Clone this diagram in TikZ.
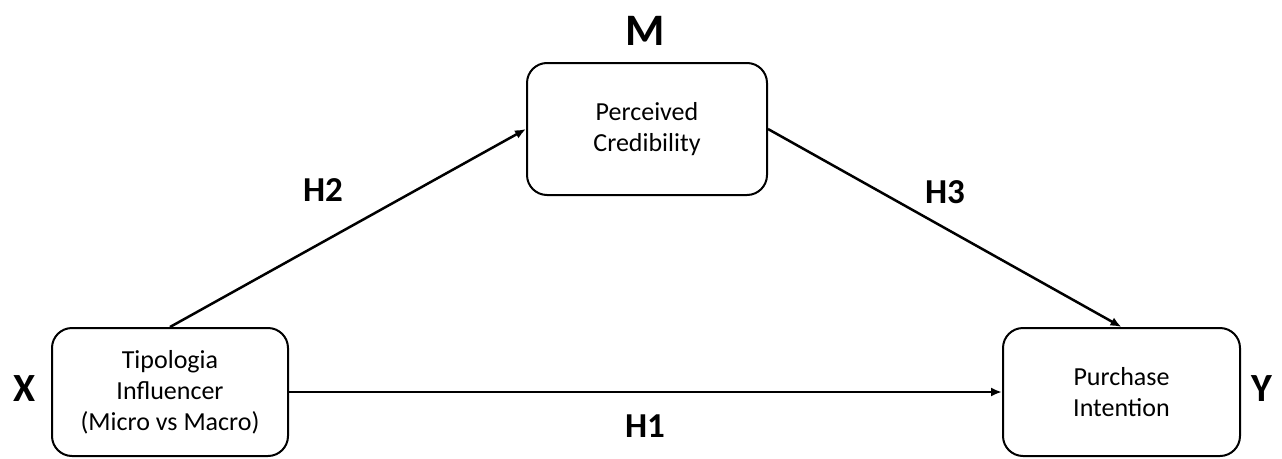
\documentclass[tikz,border=0pt]{standalone}
\usepackage{fontspec}
\setmainfont{Carlito}
\usetikzlibrary{arrows.meta}
\begin{document}
\begin{tikzpicture}[x=1pt,y=-1pt,
  varbox/.style={draw, line width=2pt, rounded corners=20pt, align=center,
    inner sep=0pt, font=\fontsize{26}{31}\selectfont},
  varlab/.style={font=\bfseries\fontsize{40}{40}\selectfont, inner sep=0pt},
  hlab/.style={font=\bfseries\fontsize{35}{35}\selectfont, inner sep=0pt},
  link/.style={line width=2.5pt, -{Latex[length=11pt,width=9pt]}}]
\useasboundingbox (0,0) rectangle (1282,458);
\node[varbox, minimum width=236pt, minimum height=128pt] (X) at (170,392)
  {Tipologia\\Influencer\\(Micro vs Macro)};
\node[varbox, minimum width=240pt, minimum height=132pt] (M) at (647,129)
  {Perceived\\Credibility};
\node[varbox, minimum width=237pt, minimum height=128pt] (Y) at (1121.5,392)
  {Purchase\\Intention};
\node[varlab] (xl) at (25,389) {X};
\node[varlab, font=\bfseries\fontsize{45}{45}\selectfont] (ml) at (645,31) {M};
\node[varlab] (yl) at (1262,389) {Y};
\node[hlab] (h2) at (323,190) {H2};
\node[hlab] (h3) at (945,192) {H3};
\node[hlab] (h1) at (645,426) {H1};
\draw[link] (X.north) -- (M.west);
\draw[link] (M.east) -- (Y.north);
\draw[link] (X.east) -- (Y.west);
\end{tikzpicture}
\end{document}
